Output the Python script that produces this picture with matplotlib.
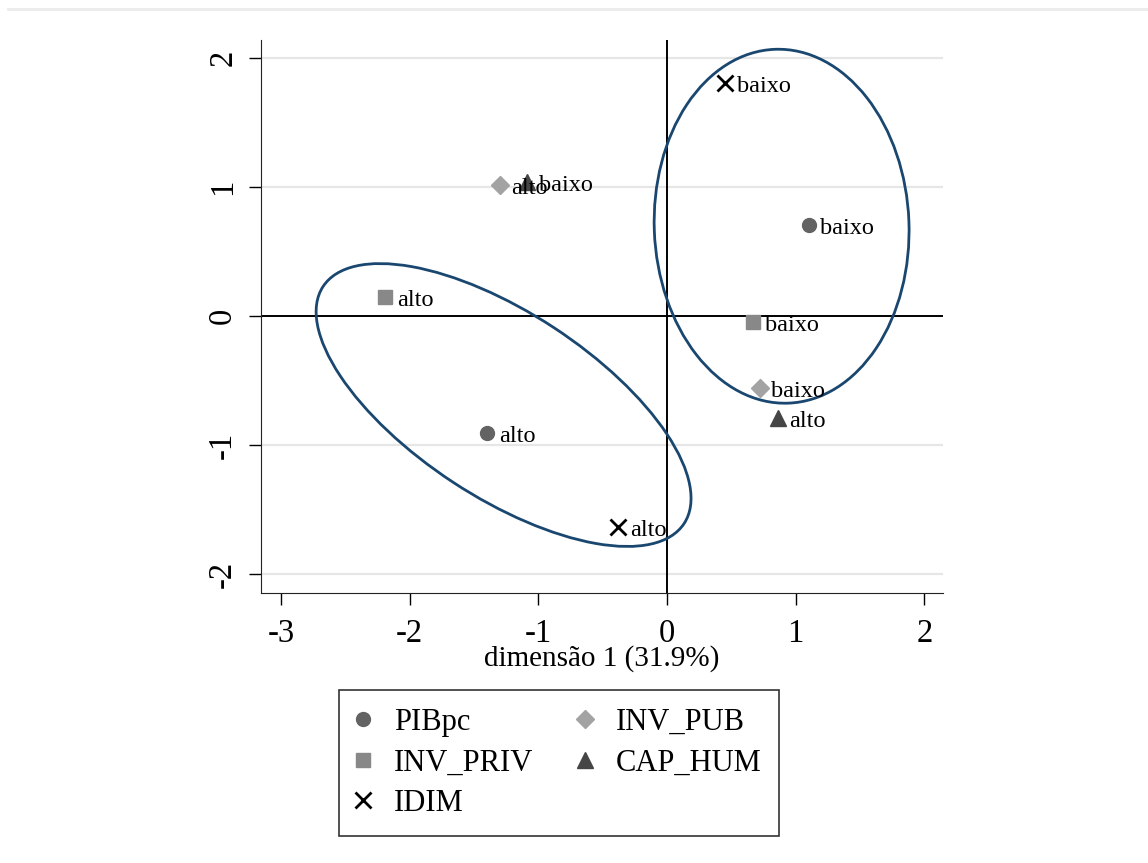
import matplotlib
matplotlib.use("Agg")
import matplotlib.pyplot as plt
from matplotlib.patches import Ellipse
from matplotlib.lines import Line2D

plt.rcParams['font.family'] = ['Liberation Serif', 'DejaVu Serif']
plt.rcParams['axes.unicode_minus'] = False

# coordenadas das categorias (dimensao 1, dimensao 2)
variaveis = ['PIBpc', 'INV_PRIV', 'IDIM', 'INV_PUB', 'CAP_HUM']
dim1 = {
    'PIBpc':    [-1.40, 1.10],
    'INV_PRIV': [-2.19, 0.67],
    'IDIM':     [-0.38, 0.45],
    'INV_PUB':  [-1.30, 0.72],
    'CAP_HUM':  [0.86, -1.09],
}
dim2 = {
    'PIBpc':    [-0.91, 0.705],
    'INV_PRIV': [0.15, -0.05],
    'IDIM':     [-1.633, 1.805],
    'INV_PUB':  [1.016, -0.56],
    'CAP_HUM':  [-0.793, 1.04],
}
rotulos = {
    'PIBpc':    ['alto', 'baixo'],
    'INV_PRIV': ['alto', 'baixo'],
    'IDIM':     ['alto', 'baixo'],
    'INV_PUB':  ['alto', 'baixo'],
    'CAP_HUM':  ['alto', 'baixo'],
}

# elipses: centro x, centro y, largura, altura, angulo
elip_cx = [-1.27, 0.891]
elip_cy = [-0.69, 0.696]
elip_w = [3.354, 1.98]
elip_h = [1.432, 2.745]
elip_ang = [-33.2, 2.2]

estilos = {
    'PIBpc':    dict(marker='o', color='#636363', ms=10),
    'INV_PRIV': dict(marker='s', color='#888888', ms=10),
    'IDIM':     dict(marker='x', color='black', ms=11, mew=2),
    'INV_PUB':  dict(marker='D', color='#a3a3a3', ms=9),
    'CAP_HUM':  dict(marker='^', color='#454545', ms=11),
}

fig = plt.figure(figsize=(11.48, 8.63), dpi=100)
ax = fig.add_axes([0.2274, 0.3129, 0.594, 0.6408])

# linha cinza no topo
fig.add_artist(Line2D([0.007, 1.0], [0.9895, 0.9895], color='#ebebeb', lw=2,
                      transform=fig.transFigure))

for v in [-2, -1, 1, 2]:
    ax.axhline(v, color='#e6e6e6', lw=1.6, zorder=0)
ax.axhline(0, color='black', lw=1.4, zorder=1)
ax.axvline(0, color='black', lw=1.4, zorder=1)

for cx, cy, w, h, a in zip(elip_cx, elip_cy, elip_w, elip_h, elip_ang):
    ax.add_patch(Ellipse((cx, cy), w, h, angle=a, fill=False,
                         edgecolor='#1a476f', lw=2, zorder=2))

for var in variaveis:
    st = estilos[var]
    ax.plot(dim1[var], dim2[var], ls='none', marker=st['marker'], color=st['color'],
            ms=st['ms'], mew=st.get('mew', 1), label=var, zorder=3)
    for x, y, t in zip(dim1[var], dim2[var], rotulos[var]):
        ax.annotate(t, (x, y), xytext=(8.5, -6.5), textcoords='offset points',
                    ha='left', va='baseline', fontsize=17.5, zorder=4)

ax.set_xlim(-3.155, 2.145)
ax.set_ylim(-2.147, 2.14)
ax.set_xticks([-3, -2, -1, 0, 1, 2])
ax.set_yticks([-2, -1, 0, 1, 2])
ax.tick_params(axis='both', length=8.5, width=1, color='black', labelsize=23.5)
ax.tick_params(axis='x', pad=10)
ax.tick_params(axis='y', pad=8)
for lbl in ax.get_yticklabels():
    lbl.set_rotation(90)
    lbl.set_va('center')
ax.spines['top'].set_visible(False)
ax.spines['right'].set_visible(False)
ax.spines['left'].set_color('#222222')
ax.spines['bottom'].set_color('#222222')
ax.set_xlabel('dimensão 1 (31.9%)', fontsize=21, labelpad=-3)

leg = fig.legend(loc='upper center', bbox_to_anchor=(0.487, 0.2005), ncol=2,
                 fontsize=22, frameon=True, fancybox=False, edgecolor='black',
                 handlelength=0.4, handletextpad=0.8, columnspacing=1.5,
                 labelspacing=0.38, borderpad=0.58, borderaxespad=0, numpoints=1)
leg.get_frame().set_linewidth(1.2)

fig.savefig('out.png', dpi=100)
